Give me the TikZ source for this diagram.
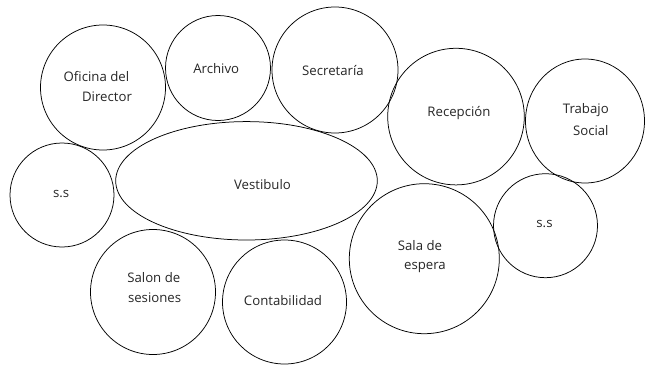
\documentclass[tikz,border=0pt]{standalone}
\usepackage{fontspec}
\setmainfont{Open Sans}
\usetikzlibrary{shapes.geometric}
\begin{document}
\begin{tikzpicture}[x=1pt,y=-1pt,
  bubble/.style={draw=black, line width=0.75pt, circle, inner sep=0pt, minimum size=#1},
  oval/.style={draw=black, line width=0.75pt, ellipse, inner sep=0pt},
  lbl/.style={inner sep=0pt, text=black!85, font=\fontsize{13.2}{15}\selectfont}]
\useasboundingbox (0,0) rectangle (645,364);
% bubbles
\node[bubble=125pt] (ofic) at (103,87.5) {};
\node[bubble=105pt] (arch) at (218,68) {};
\node[bubble=126pt] (secr) at (335,70) {};
\node[bubble=136.6pt] (recep) at (456,116.6) {};
\node[oval, minimum width=119pt, minimum height=124pt] (trab) at (585,121) {};
\node[bubble=104pt] (ssl) at (62,195) {};
\node[oval, minimum width=261.6pt, minimum height=118.4pt] (vest) at (246.5,180.8) {};
\node[bubble=125pt] (salon) at (153,292) {};
\node[bubble=124pt] (cont) at (284.5,302) {};
\node[bubble=150pt] (sala) at (424.3,258.7) {};
\node[bubble=104pt] (ssr) at (545.5,225.7) {};
% labels
\node[lbl] (t1a) at (96.4,77) {Oficina del};
\node[lbl] (t1b) at (107,97) {Director};
\node[lbl] (t2) at (216.2,69) {Archivo};
\node[lbl] (t3) at (333,70.5) {Secretaría};
\node[lbl] (t4) at (459,112.7) {Recepción};
\node[lbl] (t5a) at (585.8,110) {Trabajo};
\node[lbl] (t5b) at (590.8,131) {Social};
\node[lbl] (t6) at (61.2,193.7) {s.s};
\node[lbl] (t7) at (262.5,185) {Vestibulo};
\node[lbl] (t8a) at (153.8,277.7) {Salon de};
\node[lbl] (t8b) at (154.6,298) {sesiones};
\node[lbl] (t9) at (283,300.3) {Contabilidad};
\node[lbl] (t10a) at (420,245.3) {Sala de};
\node[lbl] (t10b) at (425,267) {espera};
\node[lbl] (t11) at (544.5,223.7) {s.s};
\end{tikzpicture}
\end{document}
